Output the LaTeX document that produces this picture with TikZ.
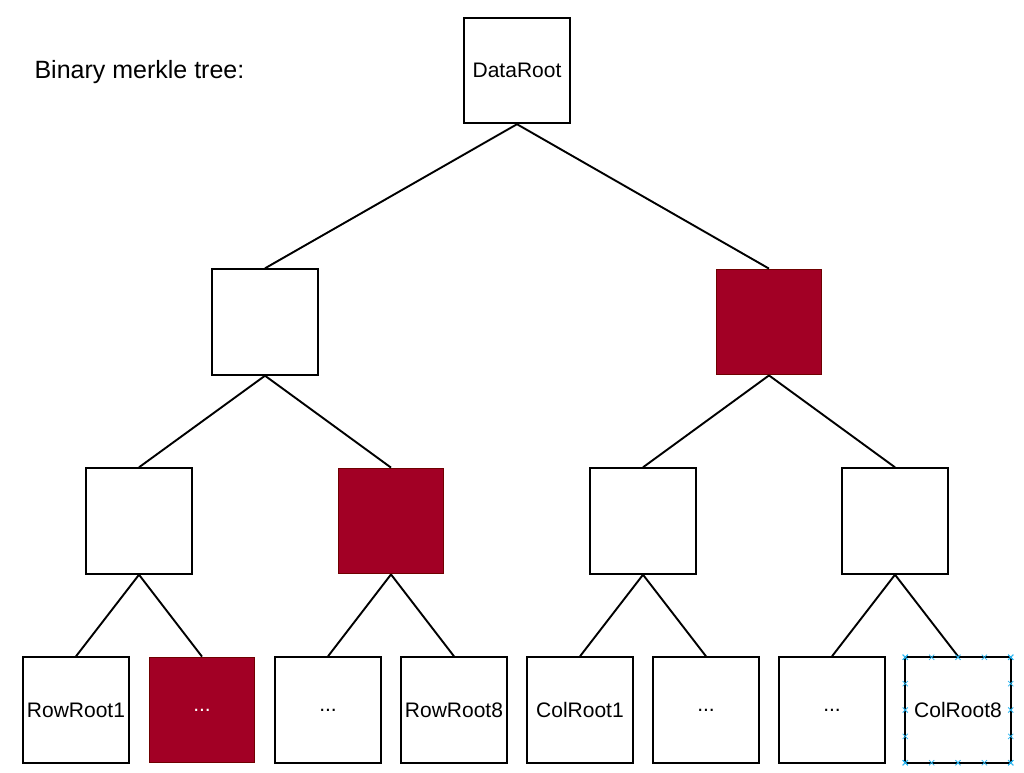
\documentclass[tikz,border=0pt]{standalone}
\usepackage{fontspec}
\setmainfont{Liberation Sans}
\usetikzlibrary{calc}
\definecolor{crimsonfill}{HTML}{A20025}
\definecolor{crimsonline}{HTML}{6F0000}
\definecolor{handleblue}{HTML}{29B6F2}
\begin{document}
\begin{tikzpicture}[x=1pt,y=-1pt,
  treebox/.style={draw=black,line width=1.9pt,fill=white,minimum width=105.5pt,minimum height=105.5pt,inner sep=0pt,
    font=\fontsize{21}{25}\selectfont},
  redbox/.style={treebox,draw=crimsonline,line width=1.3pt,fill=crimsonfill,text=white},
  edge/.style={line width=1.9pt,black},
  handle/.style={handleblue,line width=0.8pt}]
\useasboundingbox (0,0) rectangle (1024,772);
\node[anchor=west,font=\fontsize{25}{29}\selectfont] (title) at (31,72) {Binary merkle tree:};
\node[treebox] (root) at (517,70.5) {DataRoot};
\node[treebox] (l) at (265,322) {};
\node[redbox] (r) at (769,322) {};
\node[treebox] (ll) at (139,521) {};
\node[redbox] (lr) at (391,521) {};
\node[treebox] (rl) at (643,521) {};
\node[treebox] (rr) at (895,521) {};
\node[treebox] (a1) at (76,710) {RowRoot1};
\node[redbox] (a2) at (202,710) {...};
\node[treebox] (a3) at (328,710) {...};
\node[treebox] (a4) at (454,710) {RowRoot8};
\node[treebox] (a5) at (580,710) {ColRoot1};
\node[treebox] (a6) at (706,710) {...};
\node[treebox] (a7) at (832,710) {...};
\node[treebox] (a8) at (958,710) {ColRoot8};
\draw[edge] (root.south) -- (l.north);
\draw[edge] (root.south) -- (r.north);
\draw[edge] (l.south) -- (ll.north);
\draw[edge] (l.south) -- (lr.north);
\draw[edge] (r.south) -- (rl.north);
\draw[edge] (r.south) -- (rr.north);
\draw[edge] (ll.south) -- (a1.north);
\draw[edge] (ll.south) -- (a2.north);
\draw[edge] (lr.south) -- (a3.north);
\draw[edge] (lr.south) -- (a4.north);
\draw[edge] (rl.south) -- (a5.north);
\draw[edge] (rl.south) -- (a6.north);
\draw[edge] (rr.south) -- (a7.north);
\draw[edge] (rr.south) -- (a8.north);
\foreach \s in {-52.75,-26.375,0,26.375,52.75}{
  \foreach \p in {(\s,-52.75),(\s,52.75),(-52.75,\s),(52.75,\s)}{
    \path (a8.center) ++\p coordinate (h);
    \draw[handle] ($(h)+(-2.6,-2.6)$) -- ($(h)+(2.6,2.6)$);
    \draw[handle] ($(h)+(-2.6,2.6)$) -- ($(h)+(2.6,-2.6)$);
  }
}
\end{tikzpicture}
\end{document}
